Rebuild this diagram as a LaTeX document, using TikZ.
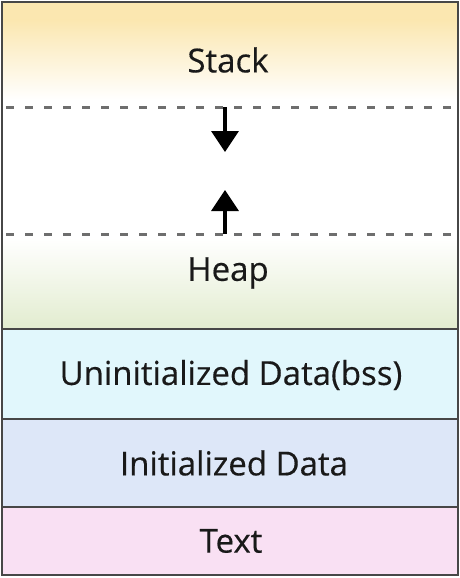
\documentclass[tikz,border=0pt]{standalone}
\usepackage{fontspec}
\setmainfont{Open Sans}
\newfontfamily\labelfont[FakeBold=0.4]{Open Sans}
\usepackage{xcolor}
\usepackage{tikz}
\usetikzlibrary{arrows.meta}
\definecolor{stackcol}{HTML}{FBE7B0}
\definecolor{heapcol}{HTML}{E2ECCF}
\definecolor{bsscol}{HTML}{E1F7FC}
\definecolor{initcol}{HTML}{DDE7F8}
\definecolor{textcol}{HTML}{F9E0F3}
\definecolor{bordercol}{HTML}{474747}
\definecolor{dashcol}{HTML}{6E6E6E}
\tikzset{
  segment/.style={
    draw=bordercol,
    line width=2pt,
  },
  divider/.style={
    draw=dashcol,
    line width=3pt,
    dash pattern=on 8pt off 11pt,
  },
  growth/.style={
    line width=3.5pt,
    -{Triangle[width=27pt,length=21pt]},
  }
}

\begin{document}
\begin{tikzpicture}[x=1pt,y=-1pt]
        \useasboundingbox (0,0) rectangle (460,578);
        % segment fills
        \fill [stackcol] (2,2) rectangle (458,20);
        \shade [top color=stackcol, bottom color=white] (2,20) rectangle (458,100);
        \shade [top color=white, bottom color=heapcol] (2,238) rectangle (458,329);
        \fill [bsscol] (2,329) rectangle (458,419);
        \fill [initcol] (2,419) rectangle (458,507);
        \fill [textcol] (2,507) rectangle (458,575);

        % dashed limits of the free area
        \draw [divider] (6,107) -- (458,107);
        \draw [divider] (6,234) -- (458,234);

        % outline and solid dividers
        \draw [segment] (2,329) -- (458,329);
        \draw [segment] (2,419) -- (458,419);
        \draw [segment] (2,507) -- (458,507);
        \draw [segment] (2,2) rectangle (458,575);

        \begin{scope}[every node/.style={font=\labelfont\fontsize{33}{38}\selectfont, text=black!90}]
            \node (stack) at (228,  60) {Stack};
            \node (heap)  at (228, 273) {Heap};
            \node (bss)   at (231, 375) {Uninitialized Data(bss)};
            \node (init)  at (234, 463) {Initialized Data};
            \node (text)  at (231, 541) {Text};
        \end{scope}

        \coordinate (stacktop) at (225,107);
        \coordinate (stackgrow) at (225,152);
        \coordinate (heaptop) at (225,234);
        \coordinate (heapgrow) at (225,190);
        \draw [growth] (stacktop) -- (stackgrow);
        \draw [growth] (heaptop) -- (heapgrow);
    \end{tikzpicture}
\end{document}
